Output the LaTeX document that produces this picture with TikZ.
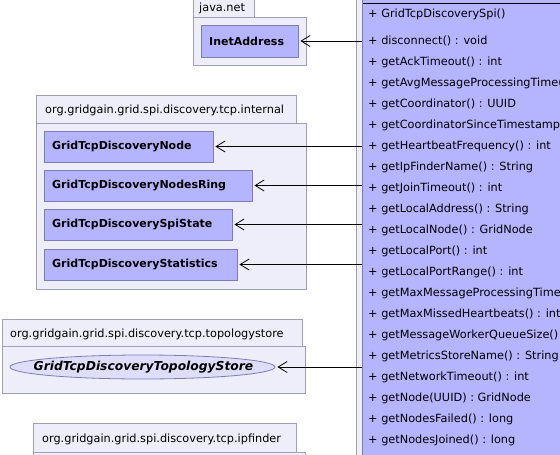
\documentclass[tikz,border=0pt]{standalone}
\usepackage{fontspec}
\setmainfont{DejaVu Sans}
\usetikzlibrary{arrows.meta,shapes.geometric}
\definecolor{pkgfill}{RGB}{238,238,250}
\definecolor{pkgline}{RGB}{160,160,180}
\definecolor{clsfill}{RGB}{180,180,255}
\definecolor{clsline}{RGB}{125,125,180}
\definecolor{ifill}{RGB}{222,222,250}
\tikzset{
  pkg/.style={draw=pkgline,fill=pkgfill,line width=0.8pt},
  pkgtext/.style={font=\fontsize{11.3}{13}\selectfont,anchor=base west,inner sep=0pt},
  cls/.style={draw=clsline,fill=clsfill,line width=0.8pt,inner sep=0pt},
  clsname/.style={font=\bfseries\fontsize{11}{13}\selectfont,anchor=west,inner sep=0pt},
  meth/.style={font=\fontsize{11.3}{13}\selectfont,anchor=base west,inner sep=0pt},
  dep/.style={-{Straight Barb[length=9pt,width=11pt]},line width=0.8pt}
}
\begin{document}
\begin{tikzpicture}[x=1pt,y=-1pt]
\useasboundingbox (0,0) rectangle (560,455);
\fill[white] (0,0) rectangle (560,455);
% right container and class
\draw[pkg] (356,-5) rectangle (570,470);
\draw[cls] (362,-5) rectangle (570,470);
\draw[black,line width=0.8pt] (363,3) -- (570,3);
\coordinate (sp) at (362,0);
\foreach \t/\y in {{+ GridTcpDiscoverySpi()}/17,
  {+ disconnect() : void}/44,
  {+ getAckTimeout() : int}/65,
  {+ getAvgMessageProcessingTime() : long}/86,
  {+ getCoordinator() : UUID}/107,
  {+ getCoordinatorSinceTimestamp() : long}/128,
  {+ getHeartbeatFrequency() : int}/149,
  {+ getIpFinderName() : String}/170,
  {+ getJoinTimeout() : int}/191,
  {+ getLocalAddress() : String}/212,
  {+ getLocalNode() : GridNode}/233,
  {+ getLocalPort() : int}/254,
  {+ getLocalPortRange() : int}/275,
  {+ getMaxMessageProcessingTime() : long}/296,
  {+ getMaxMissedHeartbeats() : int}/317,
  {+ getMessageWorkerQueueSize() : int}/338,
  {+ getMetricsStoreName() : String}/359,
  {+ getNetworkTimeout() : int}/380,
  {+ getNode(UUID) : GridNode}/401,
  {+ getNodesFailed() : long}/422,
  {+ getNodesJoined() : long}/443}
  \node[meth] at (368,\y) {\t};
% java.net
\draw[pkg] (193,-5) rectangle (254,17);
\node[pkgtext] at (199,11) {java.net};
\draw[pkg] (193,17) rectangle (306,65);
\node[cls,minimum width=97pt,minimum height=32pt] (inet) at (249.5,41) {};
\node[clsname] at (209,41) {InetAddress};
% internal
\draw[pkg] (36,95) rectangle (296,123);
\node[pkgtext] at (45,113) {org.gridgain.grid.spi.discovery.tcp.internal};
\draw[pkg] (36,123) rectangle (306,289);
\node[cls,minimum width=169pt,minimum height=31pt] (n1) at (128.5,146.5) {};
\node[clsname] at (52,146.5) {GridTcpDiscoveryNode};
\node[cls,minimum width=208pt,minimum height=31pt] (n2) at (148,185.5) {};
\node[clsname] at (52,185.5) {GridTcpDiscoveryNodesRing};
\node[cls,minimum width=188pt,minimum height=31pt] (n3) at (138,224.5) {};
\node[clsname] at (52,224.5) {GridTcpDiscoverySpiState};
\node[cls,minimum width=193pt,minimum height=31pt] (n4) at (140.5,264.5) {};
\node[clsname] at (52,264.5) {GridTcpDiscoveryStatistics};
% topologystore
\draw[pkg] (2,319) rectangle (302,346);
\node[pkgtext] at (10,337) {org.gridgain.grid.spi.discovery.tcp.topologystore};
\draw[pkg] (2,346) rectangle (305,393);
\node[ellipse,draw=clsline,fill=ifill,line width=0.8pt,minimum width=265pt,minimum height=24pt,inner sep=0pt] (ts) at (142.5,367) {};
\node[font=\bfseries\itshape\fontsize{12.3}{14}\selectfont,inner sep=0pt] at (143.5,367) {GridTcpDiscoveryTopologyStore};
% ipfinder
\draw[pkg] (33,452) rectangle (305,470);
\draw[pkg] (33,423) rectangle (296,452);
\node[pkgtext] at (42,442) {org.gridgain.grid.spi.discovery.tcp.ipfinder};
% dependencies
\draw[dep] (sp |- inet.east) -- ([xshift=2pt]inet.east);
\draw[dep] (sp |- n1.east) -- ([xshift=2pt]n1.east);
\draw[dep] (sp |- n2.east) -- ([xshift=2pt]n2.east);
\draw[dep] (sp |- n3.east) -- ([xshift=2pt]n3.east);
\draw[dep] (sp |- n4.east) -- ([xshift=2pt]n4.east);
\draw[dep] (sp |- ts.east) -- ([xshift=2pt]ts.east);
\end{tikzpicture}
\end{document}
